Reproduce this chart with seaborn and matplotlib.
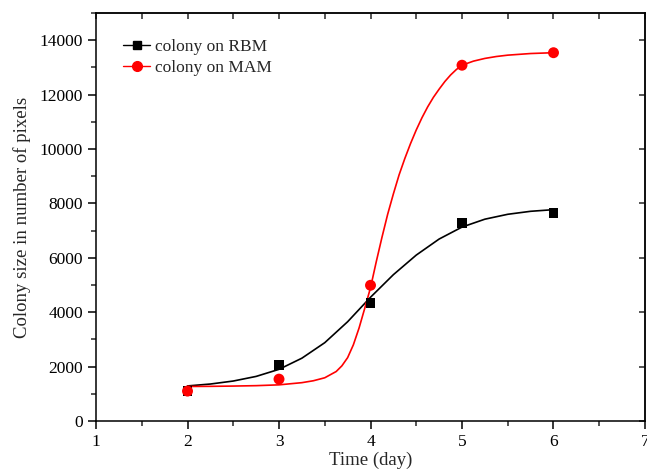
import pandas as pd
import seaborn as sns
import matplotlib
matplotlib.use("Agg")
import matplotlib.pyplot as plt
from matplotlib.lines import Line2D
from matplotlib.ticker import MultipleLocator

# measured points
days = [2, 3, 4, 5, 6]
rbm = [1100, 2050, 4350, 7270, 7650]
mam = [1100, 1540, 4990, 13080, 13540]

# fitted curves
rbm_fit_x = [2, 2.25, 2.5, 2.75, 3, 3.25, 3.5, 3.75, 4, 4.25, 4.5, 4.75, 5, 5.25, 5.5, 5.75, 6]
rbm_fit_y = [1290, 1360, 1470, 1640, 1900, 2310, 2880, 3650, 4550, 5380, 6100, 6690,
             7130, 7420, 7600, 7710, 7770]
mam_fit_x = [2, 2.25, 2.5, 2.75, 3, 3.25, 3.375, 3.5, 3.625, 3.6875, 3.75, 3.8125, 3.875,
             3.9375, 4, 4.0625, 4.125, 4.1875, 4.25, 4.3125, 4.375, 4.4375, 4.5, 4.5625,
             4.625, 4.6875, 4.75, 4.8125, 4.875, 4.9375, 5, 5.125, 5.25, 5.375, 5.5, 5.75, 6]
mam_fit_y = [1270, 1275, 1285, 1300, 1330, 1410, 1480, 1590, 1820, 2030, 2330, 2800, 3420,
             4150, 4900, 5850, 6750, 7600, 8350, 9050, 9650, 10200, 10700, 11150,
             11550, 11900, 12200, 12480, 12720, 12920, 13080, 13230, 13330, 13400, 13450,
             13510, 13540]

sns.set_style("ticks")
plt.rcParams["font.family"] = ["Liberation Serif", "DejaVu Serif"]

fig = plt.figure(figsize=(6.47, 4.69), dpi=100)
ax = fig.add_axes([0.1484, 0.1023, 0.8485, 0.870])

sns.lineplot(x=rbm_fit_x, y=rbm_fit_y, color="black", lw=1.2, ax=ax, sort=False)
sns.lineplot(x=mam_fit_x, y=mam_fit_y, color="red", lw=1.2, ax=ax, sort=False)
sns.scatterplot(x=days, y=rbm, marker="s", color="black", s=50, edgecolor="none", ax=ax, zorder=3)
sns.scatterplot(x=days, y=mam, marker="o", color="red", s=62, edgecolor="none", ax=ax, zorder=3)

ax.set_xlim(1, 7)
ax.set_ylim(0, 15000)
ax.xaxis.set_major_locator(MultipleLocator(1))
ax.xaxis.set_minor_locator(MultipleLocator(0.5))
ax.yaxis.set_major_locator(MultipleLocator(2000))
ax.yaxis.set_minor_locator(MultipleLocator(1000))
ax.tick_params(which="major", direction="out", length=6, width=1.1, labelsize=12.5, colors="black")
ax.tick_params(which="minor", direction="out", length=3.5, width=1.1)
ax.set_yticks(range(0, 15000, 2000))

# mirrored ticks on top and right
top = ax.secondary_xaxis("top")
top.xaxis.set_major_locator(MultipleLocator(0.5))
top.tick_params(direction="in", length=4, width=1.1, labeltop=False)
right = ax.secondary_yaxis("right")
right.yaxis.set_major_locator(MultipleLocator(2000))
right.tick_params(direction="in", length=4, width=1.1, labelright=False)
for a in (top, right):
    for sp in a.spines.values():
        sp.set_linewidth(1.1)

for sp in ax.spines.values():
    sp.set_visible(True)
    sp.set_linewidth(1.1)
    sp.set_color("black")

ax.set_xlabel("Time (day)", fontsize=13.5, labelpad=1)
ax.set_ylabel("Colony size in number of pixels", fontsize=13.5, labelpad=6)

handles = [
    Line2D([], [], color="black", lw=1, marker="s", markersize=6),
    Line2D([], [], color="red", lw=1, marker="o", markersize=7),
]
ax.legend(handles, ["colony on RBM", "colony on MAM"], loc="upper left",
          bbox_to_anchor=(0.02, 0.975), frameon=False, fontsize=12.5,
          handlelength=1.6, handletextpad=0.25, labelspacing=0.3)

fig.savefig("out.png", dpi=100)
